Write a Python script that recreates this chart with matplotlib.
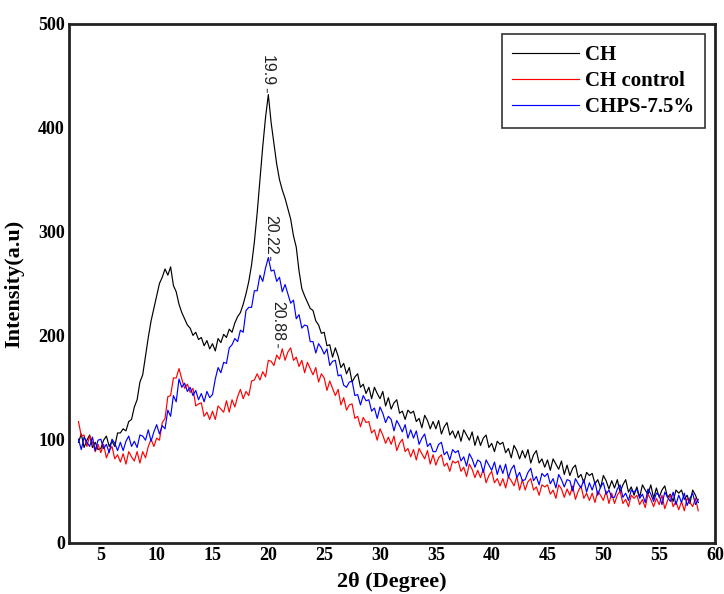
import numpy as np
import matplotlib
matplotlib.use("Agg")
import matplotlib.pyplot as plt

# 2-theta scan grid (degrees), step 0.25
two_theta = np.arange(3.0, 58.51, 0.25)

ch = [
    97, 105, 92, 99, 104, 92, 97, 90,
    91, 99, 103, 93, 98, 93, 106, 106,
    110, 108, 117, 119, 131, 138, 155, 162,
    180, 198, 214, 226, 238, 250, 256, 264,
    258, 266, 248, 242, 230, 222, 216, 210,
    207, 200, 203, 196, 198, 190, 195, 187,
    192, 185, 197, 193, 201, 198, 206, 203,
    212, 218, 222, 230, 240, 252, 268, 290,
    318, 350, 382, 410, 432, 405, 385, 365,
    350, 340, 332, 322, 312, 296, 285, 262,
    245, 238, 232, 226, 224, 214, 210, 202,
    203, 190, 191, 179, 188, 180, 169, 173,
    163, 169, 155, 160, 163, 150, 153, 144,
    150, 139, 150, 144, 139, 146, 132, 140,
    129, 135, 138, 125, 127, 119, 128, 125,
    127, 117, 120, 111, 123, 118, 110, 117,
    110, 118, 105, 112, 116, 104, 108, 101,
    108, 98, 109, 104, 99, 107, 94, 103,
    94, 101, 104, 92, 96, 88, 98, 95,
    97, 87, 91, 82, 94, 89, 81, 89,
    82, 90, 77, 85, 89, 77, 81, 73,
    80, 70, 81, 76, 71, 79, 66, 75,
    65, 72, 75, 63, 66, 58, 68, 65,
    67, 57, 61, 53, 65, 60, 52, 60,
    53, 61, 49, 56, 61, 49, 54, 46,
    54, 44, 56, 51, 47, 56, 43, 53,
    44, 51, 55, 44, 47, 40, 51, 48,
    51, 42, 46, 38, 51, 46, 39,
]

ch_control = [
    117, 103, 104, 93, 103, 97, 88, 95,
    87, 95, 82, 89, 93, 81, 85, 78,
    86, 76, 88, 83, 79, 88, 77, 88,
    82, 93, 100, 93, 101, 99, 116, 120,
    141, 142, 159, 159, 168, 158, 149, 153,
    145, 149, 132, 134, 135, 122, 126, 119,
    127, 119, 132, 129, 126, 137, 126, 138,
    131, 141, 148, 139, 146, 142, 156, 157,
    163, 157, 165, 160, 176, 175, 171, 181,
    177, 187, 176, 184, 188, 176, 179, 170,
    176, 164, 174, 168, 162, 169, 155, 163,
    159, 147, 156, 149, 142, 148, 133, 140,
    128, 133, 134, 120, 122, 112, 121, 116,
    117, 106, 109, 99, 110, 104, 96, 102,
    95, 103, 89, 96, 100, 88, 91, 83,
    90, 80, 91, 86, 81, 89, 76, 85,
    75, 82, 85, 74, 77, 69, 79, 77,
    79, 69, 73, 64, 76, 71, 63, 70,
    63, 71, 58, 65, 69, 58, 62, 55,
    62, 53, 64, 60, 55, 64, 51, 61,
    51, 59, 62, 51, 54, 46, 56, 54,
    56, 47, 51, 43, 56, 52, 44, 52,
    46, 55, 42, 50, 55, 43, 48, 41,
    48, 39, 50, 46, 41, 50, 38, 48,
    38, 46, 50, 38, 42, 35, 46, 43,
    46, 37, 42, 34, 47, 42, 35, 43,
    37, 46, 33, 41, 46, 35, 40, 32,
    40, 31, 43, 39, 35, 43, 31,
]

chps = [
    100, 90, 102, 97, 93, 102, 89, 99,
    100, 91, 95, 87, 100, 96, 89, 97,
    89, 98, 103, 93, 98, 92, 104, 103,
    99, 109, 98, 107, 114, 105, 113, 110,
    128, 122, 142, 136, 158, 150, 154, 146,
    150, 142, 147, 138, 144, 136, 146, 140,
    143, 158, 169, 164, 174, 173, 188, 191,
    197, 194, 205, 203, 224, 227, 227, 243,
    243, 258, 252, 265, 275, 262, 263, 252,
    256, 242, 249, 240, 231, 234, 216, 220,
    207, 210, 209, 194, 194, 183, 192, 188,
    182, 187, 171, 175, 176, 161, 162, 152,
    150, 155, 156, 142, 143, 133, 142, 137,
    138, 127, 130, 120, 131, 125, 116, 122,
    119, 108, 118, 113, 107, 114, 101, 109,
    101, 108, 95, 101, 105, 93, 96, 88,
    88, 95, 97, 85, 88, 80, 90, 87,
    89, 79, 83, 74, 86, 81, 73, 80,
    78, 68, 80, 75, 70, 78, 66, 75,
    67, 76, 63, 71, 75, 63, 68, 60,
    61, 68, 72, 60, 64, 56, 67, 64,
    67, 57, 62, 53, 66, 61, 54, 61,
    60, 50, 62, 57, 53, 61, 49, 58,
    51, 59, 46, 54, 58, 47, 51, 44,
    44, 52, 56, 44, 48, 41, 51, 49,
    52, 43, 47, 39, 52, 47, 40, 48,
    46, 37, 49, 44, 40, 49, 37, 46,
    39, 48, 36, 43, 48, 37, 42,
]

# peak labels: (position, intensity at peak)
peak_pos = [19.9, 20.22, 20.88]
peak_val = [434, 272, 188]
peak_txt = ["19.9", "20.22", "20.88"]

serif = "Liberation Serif"

fig = plt.figure(figsize=(7.24, 5.94), dpi=100)
ax = fig.add_axes([0.0953, 0.0859, 0.8923, 0.8737])

ax.plot(two_theta, ch, color="black", lw=0.85, label="CH")
ax.plot(two_theta, ch_control, color="red", lw=0.85, label="CH control")
ax.plot(two_theta, chps, color="blue", lw=0.85, label="CHPS-7.5%")

for p, v, t in zip(peak_pos, peak_val, peak_txt):
    ax.annotate(t, xy=(p, v), xytext=(p, v + 6), rotation=270,
                ha="center", va="bottom", fontsize=11.5,
                family="Liberation Sans", color="#222222",
                arrowprops=dict(arrowstyle="-", color="black", lw=0.6,
                                shrinkA=0, shrinkB=0))

ax.set_xlim(2.15, 59.9)
ax.set_ylim(0, 500)
ax.set_xticks([5, 10, 15, 20, 25, 30, 35, 40, 45, 50, 55, 60])
ax.set_yticks([0, 100, 200, 300, 400, 500])
ax.tick_params(direction="out", length=0, pad=3)
for lab in ax.get_xticklabels() + ax.get_yticklabels():
    lab.set_family(serif)
    lab.set_fontweight("bold")
    lab.set_fontsize(13)
for s in ax.spines.values():
    s.set_linewidth(2)
    s.set_color("#222222")

ax.set_xlabel("2θ (Degree)", family=serif, fontweight="bold", fontsize=16, labelpad=6)
ax.set_ylabel("Intensity(a.u)", family=serif, fontweight="bold", fontsize=16, labelpad=10)

leg = ax.legend(loc="upper right", prop=dict(family=serif, weight="bold", size=15),
                fancybox=False, edgecolor="#333333", framealpha=1,
                handlelength=3.2, borderaxespad=0.5, labelspacing=0.3,
                handletextpad=0.3, borderpad=0.5)
leg.get_frame().set_linewidth(1.2)

plt.savefig("out.png", dpi=100)
